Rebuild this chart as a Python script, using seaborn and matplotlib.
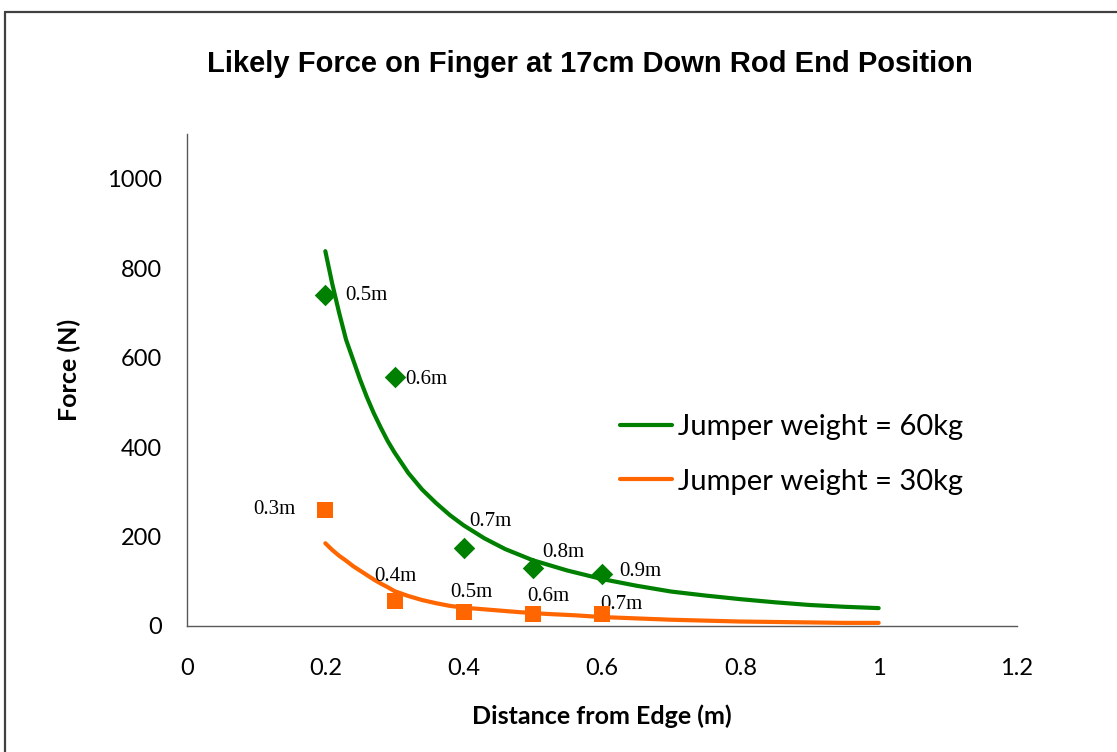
import matplotlib
matplotlib.use("Agg")
import matplotlib.pyplot as plt
import seaborn as sns
import pandas as pd
from matplotlib.lines import Line2D

# ---- data ----
curve60_x = [0.200, 0.210, 0.220, 0.230, 0.240, 0.250, 0.260, 0.270, 0.280, 0.290, 0.300,
             0.320, 0.340, 0.360, 0.380, 0.400, 0.430, 0.460, 0.500, 0.550, 0.600,
             0.650, 0.700, 0.750, 0.800, 0.850, 0.900, 0.950, 1.000]
curve60_y = [838, 765, 700, 640, 596, 552, 512, 476, 444, 414, 388,
             342, 305, 275, 248, 225, 196, 172, 147, 124, 105,
             90, 77, 68, 60, 53, 47, 43, 40]
curve30_x = [0.200, 0.210, 0.220, 0.230, 0.240, 0.250, 0.260, 0.270, 0.280, 0.290, 0.300,
             0.320, 0.340, 0.360, 0.380, 0.400, 0.440, 0.480, 0.520, 0.560, 0.600,
             0.650, 0.700, 0.750, 0.800, 0.850, 0.900, 0.950, 1.000]
curve30_y = [185, 170, 157, 146, 134, 124, 114, 104, 95, 87, 78,
             67, 58, 51, 45, 41, 36, 31, 27, 24, 20,
             17, 14, 12, 10, 9, 8, 7, 7]

pts60_x = [0.2, 0.3, 0.4, 0.5, 0.6]
pts60_y = [740, 556, 175, 129, 117]
pts60_lab = ["0.5m", "0.6m", "0.7m", "0.8m", "0.9m"]

pts30_x = [0.2, 0.3, 0.4, 0.5, 0.6]
pts30_y = [260, 56, 32, 27, 26]
pts30_lab = ["0.3m", "0.4m", "0.5m", "0.6m", "0.7m"]

series_names = ["Jumper weight = 60kg", "Jumper weight = 30kg"]
xticks = [0, 0.2, 0.4, 0.6, 0.8, 1, 1.2]
xtick_labels = ["0", "0.2", "0.4", "0.6", "0.8", "1", "1.2"]
yticks = [0, 200, 400, 600, 800, 1000]

GREEN = "#008000"
ORANGE = "#FF6600"

sns.set_style("white")
plt.rcParams['font.family'] = ['Lato', 'DejaVu Sans']
plt.rcParams['text.color'] = 'black'
plt.rcParams['axes.labelcolor'] = 'black'

fig = plt.figure(figsize=(11.17, 7.52), dpi=100)
ax = fig.add_axes([187/1117, 1-626/752, (1017-187)/1117, (626-134)/752])

df60 = pd.DataFrame({"x": curve60_x, "y": curve60_y})
df30 = pd.DataFrame({"x": curve30_x, "y": curve30_y})
sns.lineplot(data=df60, x="x", y="y", ax=ax, color=GREEN, linewidth=3, sort=True)
sns.lineplot(data=df30, x="x", y="y", ax=ax, color=ORANGE, linewidth=3, sort=True)

p60 = pd.DataFrame({"x": pts60_x, "y": pts60_y})
p30 = pd.DataFrame({"x": pts30_x, "y": pts30_y})
sns.scatterplot(data=p60, x="x", y="y", ax=ax, marker="D", s=120, color=GREEN, edgecolor=GREEN, linewidth=0, zorder=5)
sns.scatterplot(data=p30, x="x", y="y", ax=ax, marker="s", s=125, color=ORANGE, edgecolor=ORANGE, linewidth=0, zorder=5)

# annotation offsets (pixels) and alignment
off60 = [(20, 0, "left"), (11, -2, "left"), (6, 26, "left"), (9, 16, "left"), (17, 2, "left")]
off30 = [(-30, 0, "right"), (-20, 24, "left"), (-13, 19, "left"), (-6, 17, "left"), (-2, 10, "left")]
for x, y, t, (dx, dy, ha) in zip(pts60_x, pts60_y, pts60_lab, off60):
    ax.annotate(t, (x, y), xytext=(dx, dy), textcoords="offset pixels", ha=ha, va="center",
                fontsize=15, family="Liberation Serif", color="black")
for x, y, t, (dx, dy, ha) in zip(pts30_x, pts30_y, pts30_lab, off30):
    ax.annotate(t, (x, y), xytext=(dx, dy), textcoords="offset pixels", ha=ha, va="center",
                fontsize=15, family="Liberation Serif", color="black")

ax.set_xlim(0, 1.2)
ax.set_ylim(0, 1100)
ax.set_xticks(xticks)
ax.set_xticklabels(xtick_labels)
ax.set_yticks(yticks)

spine_c = "#595959"
for s in ["top", "right"]:
    ax.spines[s].set_visible(False)
for s in ["left", "bottom"]:
    ax.spines[s].set_color(spine_c)
    ax.spines[s].set_linewidth(1.0)
ax.tick_params(axis="both", which="both", direction="out", length=6, width=1.0,
               color=spine_c, labelsize=17, labelcolor="black")
ax.tick_params(axis="x", pad=17)
ax.tick_params(axis="y", pad=12)

ax.set_xlabel("Distance from Edge (m)", fontsize=18, fontweight="bold", labelpad=18)
ax.set_ylabel("Force (N)", fontsize=18, fontweight="bold", labelpad=19)
ax.yaxis.label.set_y(0.52)

fig.text(590/1117, 1-64/752, "Likely Force on Finger at 17cm Down Rod End Position",
         ha="center", va="center", fontsize=21, fontweight="bold", family="Liberation Sans")

handles = [Line2D([0], [0], color=GREEN, lw=3), Line2D([0], [0], color=ORANGE, lw=3)]
ax.legend(handles, series_names, loc="center left", bbox_to_anchor=(0.49, 0.349),
          frameon=False, fontsize=21, handlelength=1.8, handletextpad=0.18, labelspacing=0.98)

# chart-area border (top and left visible)
fig.add_artist(Line2D([5/1117, 5/1117], [0, 1-12/752], transform=fig.transFigure, color="#404040", lw=1.6))
fig.add_artist(Line2D([5/1117, 1], [1-12/752, 1-12/752], transform=fig.transFigure, color="#404040", lw=1.6))

fig.savefig("out.png", dpi=100)
